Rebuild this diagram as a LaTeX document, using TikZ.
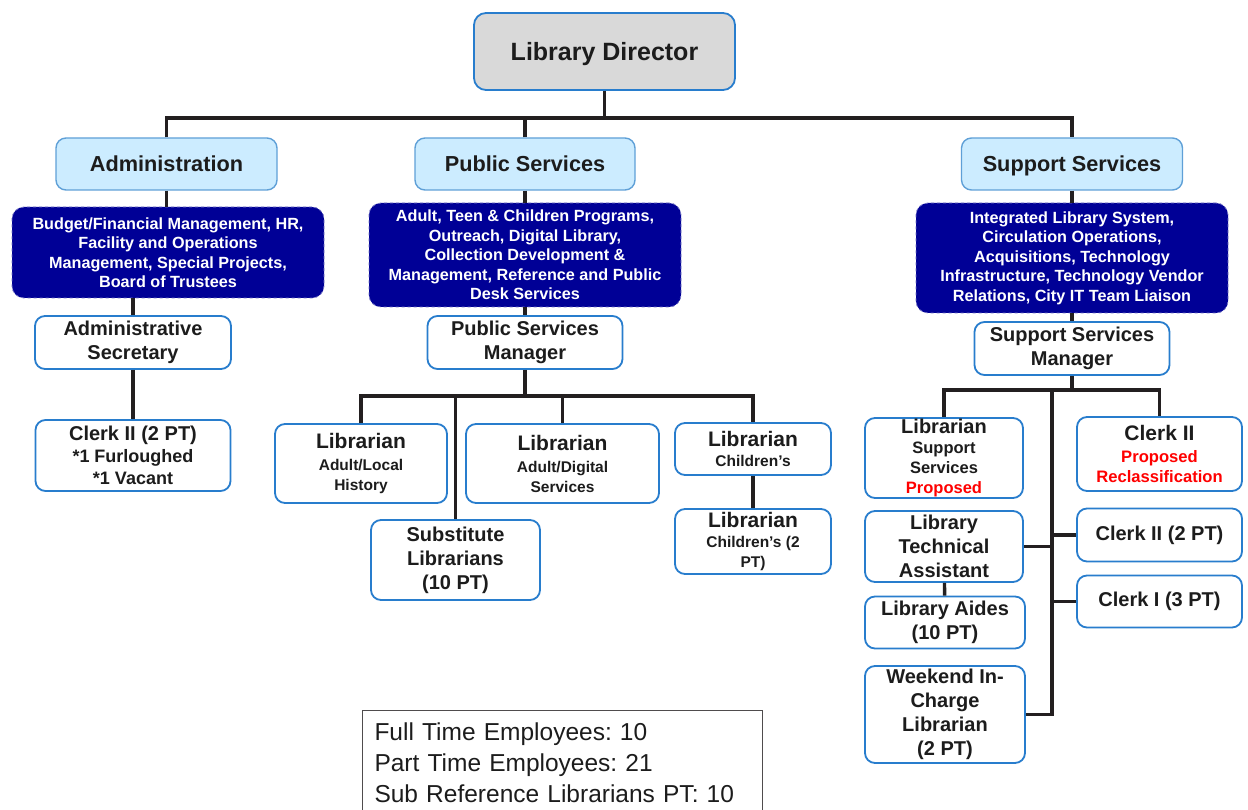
\documentclass[tikz,border=0pt]{standalone}
\usepackage{fontspec}
\setmainfont{Liberation Sans}
\usepackage{xcolor}

\definecolor{boxblue}{RGB}{40,125,205}
\definecolor{headblue}{RGB}{95,160,215}
\definecolor{headfill}{RGB}{204,236,255}
\definecolor{dirfill}{RGB}{217,217,217}
\definecolor{dutyfill}{RGB}{0,0,150}
\definecolor{linecol}{RGB}{35,31,32}
\definecolor{txtcol}{RGB}{28,28,28}
\definecolor{propred}{RGB}{255,0,0}

\newcommand{\fsz}[2]{\fontsize{#1}{#2}\selectfont}

\tikzset{
  orgline/.style={draw=linecol, line width=3.4pt},
  dirbox/.style={draw=boxblue, fill=dirfill, line width=1.8pt, rounded corners=12pt,
    text=txtcol, font=\bfseries\fsz{25}{29}, inner sep=0pt, text height=19pt, text depth=0pt},
  unitbox/.style={draw=headblue, fill=headfill, line width=1.4pt, rounded corners=10pt,
    text=txtcol, font=\bfseries\fsz{21.7}{25}, inner sep=0pt, text height=15.5pt, text depth=0pt},
  dutybox/.style={draw=dutyfill!55!white, dashed, fill=dutyfill, line width=0.8pt,
    rounded corners=12pt, text=white, font=\bfseries\fsz{16.2}{19.5}, align=center, inner sep=0pt},
  staffbox/.style={draw=boxblue, fill=white, line width=1.8pt, rounded corners=10pt,
    text=txtcol, font=\bfseries\fsz{20}{24}, align=center, inner sep=0pt},
  subline/.style={font=\bfseries\fsz{15.5}{20}},
}

\begin{document}
\begin{tikzpicture}[x=1pt, y=-1pt]
    \useasboundingbox (0,0) rectangle (1248,810);

    % Director and the three divisions
    \node[dirbox, minimum width=261, minimum height=77] (dir) at (604.5,51.5) {Library Director};
    \node[unitbox, minimum width=221, minimum height=52] (adm) at (166.5,164) {Administration};
    \node[unitbox, minimum width=220, minimum height=52] (pub) at (525,164) {Public Services};
    \node[unitbox, minimum width=221, minimum height=52] (sup) at (1072,164) {Support Services};

    % Duties of each division
    \node[dutybox, minimum width=312, minimum height=91] (admduty) at (168,252.5)
        {Budget/Financial Management, HR,\\Facility and Operations\\Management, Special Projects,\\Board of Trustees};
    \node[dutybox, minimum width=312, minimum height=104] (pubduty) at (525,255)
        {Adult,\ Teen \& Children Programs,\\Outreach, Digital Library,\\Collection Development \&\\Management, Reference and Public\\Desk Services};
    \node[dutybox, minimum width=312, minimum height=110] (supduty) at (1072,258)
        {Integrated Library System,\\Circulation Operations,\\Acquisitions, Technology\\Infrastructure, Technology Vendor\\Relations, City IT Team Liaison};

    % Administration staff
    \node[staffbox, minimum width=196, minimum height=53] (admsec) at (133,342.5) {Administrative\\Secretary};
    \node[staffbox, minimum width=195, minimum height=71, font=\bfseries\fsz{18}{22}] (admclerk) at (133,455.5)
        {{\fsz{20}{22}Clerk II (2 PT)}\\*1 Furloughed\\*1 Vacant};

    % Public services staff
    \node[staffbox, minimum width=195, minimum height=53] (psm) at (525,342.5) {Public Services\\Manager};
    \node[staffbox, subline, minimum width=172, minimum height=79] (libal) at (361,463.5)
        {{\fsz{21}{23}Librarian}\\[2pt]Adult/Local\\History};
    \node[staffbox, minimum width=169, minimum height=80] (subst) at (455.5,560)
        {Substitute\\Librarians\\(10 PT)};
    \node[staffbox, subline, minimum width=193, minimum height=79] (libad) at (562.5,463.5)
        {{\fsz{21}{23}Librarian}\\[2pt]Adult/Digital\\Services};
    \node[staffbox, subline, minimum width=156, minimum height=52] (libch) at (753,449)
        {{\fsz{21}{23}Librarian}\\Children’s};
    \node[staffbox, subline, minimum width=156, minimum height=65] (libch2) at (753,541.5)
        {{\fsz{21}{23}Librarian}\\Children’s (2\\PT)};

    % Support services staff
    \node[staffbox, minimum width=195, minimum height=53] (ssm) at (1072,348.5) {Support Services\\Manager};
    \node[staffbox, minimum width=158, minimum height=80, font=\bfseries\fsz{16.5}{20}] (libsup) at (944,458)
        {{\fsz{20}{22}Librarian}\\Support\\Services\\\textcolor{propred}{Proposed}};
    \node[staffbox, minimum width=165, minimum height=74, font=\bfseries\fsz{16.6}{20}] (clkprop) at (1159.5,454)
        {{\fsz{21}{24}Clerk II}\\[2pt]\textcolor{propred}{Proposed}\\\textcolor{propred}{Reclassification}};
    \node[staffbox, minimum width=158, minimum height=71] (lta) at (944,546.5) {Library\\Technical\\Assistant};
    \node[staffbox, minimum width=160, minimum height=52] (aides) at (945,622.5) {Library Aides\\(10 PT)};
    \node[staffbox, minimum width=160, minimum height=97] (wkend) at (945,714.5)
        {Weekend In-\\Charge\\Librarian\\(2 PT)};
    \node[staffbox, minimum width=165, minimum height=53] (clk2) at (1159.5,535) {Clerk II (2 PT)};
    \node[staffbox, minimum width=165, minimum height=52] (clk1) at (1159.5,601.5) {Clerk I (3 PT)};

    % Head count
    \node[draw=linecol!80, line width=1pt, anchor=north west, minimum width=400, minimum height=104,
          text width=376, inner xsep=12, inner ysep=4, align=left, font=\fsz{24.5}{31}, text=txtcol]
        (count) at (362,710)
        {Full Time Employees:\ 10\\Part Time Employees:\ 21\\Sub Reference Librarians PT:\ 10};

    % Connectors from the director
    \coordinate (topbus) at (604.5,118);
    \draw[orgline] (dir.south) -- (topbus);
    \draw[orgline] (adm.north) |- (topbus) -| (sup.north);
    \draw[orgline] (pub.north) -- (pub.north |- topbus);

    % Administration branch
    \draw[orgline] (adm.south) -- (adm.south |- admduty.north);
    \draw[orgline] (admsec.north) -- (admsec.north |- admduty.south);
    \draw[orgline] (admsec) -- (admclerk);

    % Public services branch
    \draw[orgline] (pub) -- (pubduty);
    \draw[orgline] (pubduty) -- (psm);
    \coordinate (pbus) at (525,396);
    \draw[orgline] (psm.south) -- (pbus);
    \draw[orgline] (libal.north) |- (pbus) -| (libch.north);
    \draw[orgline] (subst.north) -- (subst.north |- pbus);
    \draw[orgline] (libad.north) -- (libad.north |- pbus);
    \draw[orgline] (libch) -- (libch2);

    % Support services branch
    \draw[orgline] (sup) -- (supduty);
    \draw[orgline] (supduty) -- (ssm);
    \coordinate (sbus) at (1072,390);
    \coordinate (trunk) at (1052,390);
    \draw[orgline] (ssm.south) -- (sbus);
    \draw[orgline] (libsup.north) |- (sbus) -| (clkprop.north);
    \draw[orgline] (trunk) |- (wkend.east);
    \draw[orgline] (lta.east) -- (lta.east -| trunk);
    \draw[orgline] (clk2.west) -- (clk2.west -| trunk);
    \draw[orgline] (clk1.west) -- (clk1.west -| trunk);
    \draw[orgline] (lta) -- (aides);

\end{tikzpicture}
\end{document}
